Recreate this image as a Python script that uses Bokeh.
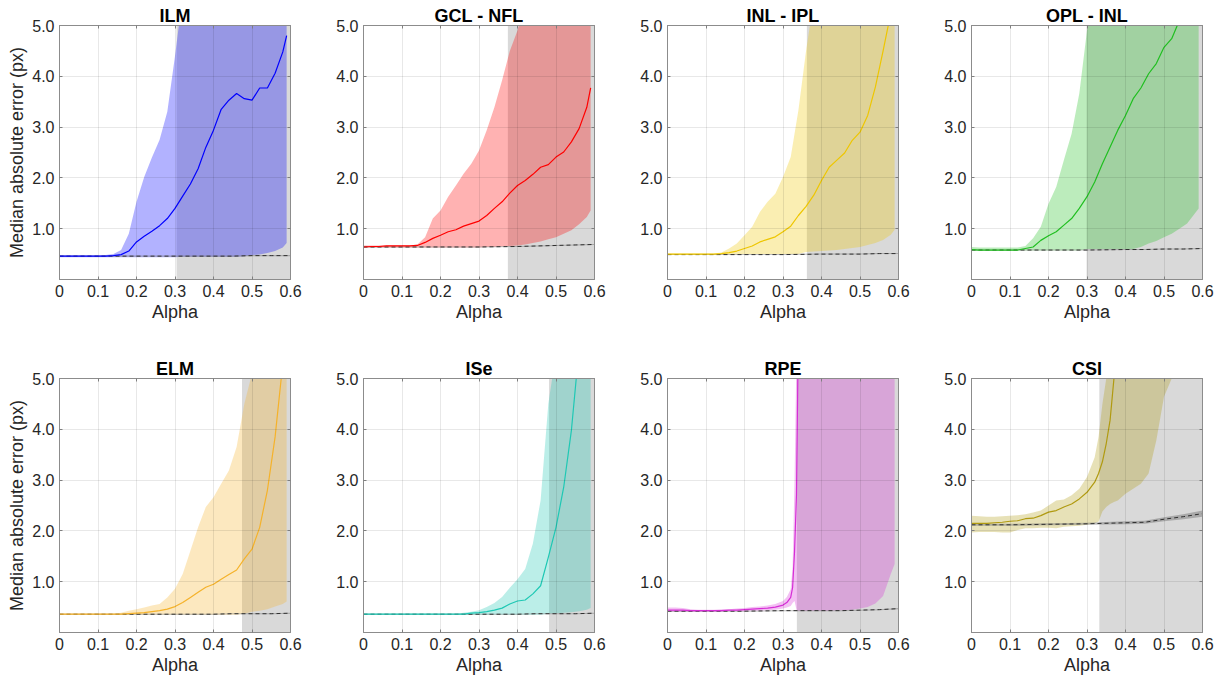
from bokeh.plotting import figure
from bokeh.layouts import column, row
from bokeh.models import (Range1d, FixedTicker, NumeralTickFormatter, BoxAnnotation,
                          LinearAxis, CustomJSTickFormatter)
from bokeh.embed import file_html
from bokeh.resources import INLINE

# ---------------- data ----------------
titles = ["ILM", "GCL - NFL", "INL - IPL", "OPL - INL", "ELM", "ISe", "RPE", "CSI"]
line_colors = ["#0000ff", "#ff0000", "#eec600", "#20bf20", "#f5b22a", "#1ec8b4", "#d62ed6", "#b09a10"]
grey_start = [0.304, 0.375, 0.362, 0.299, 0.474, 0.482, 0.336, 0.332]

x_ticks = [0.0, 0.1, 0.2, 0.3, 0.4, 0.5, 0.6]
y_ticks = [1.0, 2.0, 3.0, 4.0, 5.0]

alpha = [0.00, 0.02, 0.04, 0.06, 0.08, 0.10, 0.12, 0.14, 0.16, 0.18, 0.20, 0.22, 0.24, 0.26, 0.28,
         0.30, 0.32, 0.34, 0.36, 0.38, 0.40, 0.42, 0.44, 0.46, 0.48, 0.50, 0.52, 0.54, 0.56, 0.58, 0.59]

ilm_median = [0.46, 0.46, 0.46, 0.46, 0.46, 0.46, 0.46, 0.47, 0.49, 0.56, 0.74, 0.85, 0.95, 1.06, 1.20,
              1.40, 1.64, 1.88, 2.18, 2.60, 2.94, 3.35, 3.53, 3.66, 3.56, 3.53, 3.77, 3.77, 4.06, 4.48, 4.80]
ilm_upper = [0.47, 0.47, 0.47, 0.47, 0.47, 0.47, 0.48, 0.50, 0.58, 0.90, 1.53, 2.02, 2.40, 2.75, 3.30,
             4.40, 5.60, 6.0, 6.0, 6.0, 6.0, 6.0, 6.0, 6.0, 6.0, 6.0, 6.0, 6.0, 6.0, 6.0, 6.0]
ilm_lower = [0.44, 0.44, 0.44, 0.44, 0.44, 0.44, 0.44, 0.44, 0.44, 0.44, 0.44, 0.44, 0.44, 0.44, 0.44,
             0.44, 0.45, 0.45, 0.45, 0.45, 0.45, 0.45, 0.45, 0.45, 0.46, 0.48, 0.49, 0.52, 0.56, 0.63, 0.72]

gcl_median = [0.64, 0.65, 0.65, 0.66, 0.66, 0.66, 0.66, 0.67, 0.73, 0.81, 0.87, 0.94, 0.98, 1.05, 1.10,
              1.15, 1.26, 1.40, 1.53, 1.70, 1.85, 1.95, 2.07, 2.21, 2.26, 2.41, 2.51, 2.71, 2.97, 3.39, 3.77]
gcl_upper = [0.67, 0.67, 0.67, 0.67, 0.67, 0.67, 0.67, 0.69, 0.83, 1.20, 1.36, 1.63, 1.85, 2.08, 2.28,
             2.54, 2.94, 3.39, 3.92, 4.50, 4.90, 5.50, 6.0, 6.0, 6.0, 6.0, 6.0, 6.0, 6.0, 6.0, 6.0]
gcl_lower = [0.63, 0.63, 0.63, 0.63, 0.63, 0.63, 0.63, 0.63, 0.63, 0.63, 0.63, 0.63, 0.63, 0.63, 0.63,
             0.63, 0.64, 0.64, 0.65, 0.66, 0.67, 0.69, 0.72, 0.75, 0.79, 0.83, 0.90, 0.97, 1.09, 1.23, 1.36]

inl_median = [0.50, 0.50, 0.50, 0.50, 0.50, 0.50, 0.50, 0.51, 0.53, 0.56, 0.61, 0.66, 0.74, 0.79, 0.84,
              0.94, 1.05, 1.26, 1.44, 1.66, 1.95, 2.21, 2.35, 2.49, 2.74, 2.90, 3.23, 3.79, 4.50, 5.25, 5.60]
inl_upper = [0.51, 0.51, 0.51, 0.51, 0.51, 0.51, 0.51, 0.53, 0.61, 0.71, 0.87, 1.04, 1.33, 1.53, 1.69,
             2.02, 2.41, 3.33, 4.51, 5.50, 6.0, 6.0, 6.0, 6.0, 6.0, 6.0, 6.0, 6.0, 6.0, 6.0, 6.0]
inl_lower = [0.49, 0.49, 0.49, 0.49, 0.49, 0.49, 0.49, 0.49, 0.49, 0.49, 0.50, 0.50, 0.50, 0.50, 0.50,
             0.50, 0.50, 0.50, 0.54, 0.55, 0.56, 0.57, 0.58, 0.60, 0.62, 0.64, 0.68, 0.72, 0.78, 0.88, 0.98]

opl_median = [0.59, 0.58, 0.58, 0.58, 0.58, 0.58, 0.58, 0.61, 0.64, 0.77, 0.86, 0.94, 1.07, 1.20, 1.40,
              1.63, 1.92, 2.28, 2.61, 2.94, 3.23, 3.56, 3.77, 4.05, 4.25, 4.57, 4.74, 5.10, 5.40, 5.70, 5.90]
opl_upper = [0.64, 0.63, 0.63, 0.63, 0.63, 0.63, 0.63, 0.66, 0.81, 1.04, 1.49, 1.82, 2.35, 2.87, 3.66,
             4.90, 5.60, 6.0, 6.0, 6.0, 6.0, 6.0, 6.0, 6.0, 6.0, 6.0, 6.0, 6.0, 6.0, 6.0, 6.0]
opl_lower = [0.57, 0.57, 0.57, 0.57, 0.57, 0.57, 0.57, 0.57, 0.57, 0.57, 0.57, 0.57, 0.57, 0.57, 0.57,
             0.60, 0.60, 0.60, 0.60, 0.60, 0.60, 0.60, 0.64, 0.71, 0.76, 0.83, 0.90, 1.00, 1.10, 1.30, 1.40]

elm_median = [0.36, 0.36, 0.36, 0.36, 0.36, 0.36, 0.36, 0.36, 0.36, 0.37, 0.38, 0.39, 0.41, 0.43, 0.46,
              0.51, 0.59, 0.69, 0.79, 0.89, 0.95, 1.05, 1.14, 1.23, 1.45, 1.64, 2.07, 2.80, 3.85, 5.30, 5.70]
elm_upper = [0.37, 0.37, 0.37, 0.37, 0.37, 0.37, 0.37, 0.37, 0.39, 0.43, 0.46, 0.49, 0.53, 0.56, 0.69,
             0.86, 1.15, 1.61, 2.07, 2.47, 2.66, 2.93, 3.19, 3.65, 4.50, 5.10, 6.0, 6.0, 6.0, 6.0, 6.0]
elm_lower = [0.35, 0.35, 0.35, 0.35, 0.35, 0.35, 0.35, 0.35, 0.35, 0.35, 0.35, 0.35, 0.35, 0.35, 0.35,
             0.35, 0.35, 0.35, 0.35, 0.35, 0.35, 0.35, 0.35, 0.35, 0.37, 0.41, 0.43, 0.46, 0.51, 0.56, 0.61]

ise_median = [0.36, 0.36, 0.36, 0.36, 0.36, 0.36, 0.36, 0.36, 0.36, 0.36, 0.36, 0.36, 0.36, 0.36, 0.38,
              0.39, 0.41, 0.44, 0.48, 0.56, 0.62, 0.64, 0.76, 0.92, 1.48, 2.07, 2.86, 3.98, 5.60, 6.50, 7.00]
ise_upper = [0.37, 0.37, 0.37, 0.37, 0.37, 0.37, 0.37, 0.37, 0.37, 0.37, 0.37, 0.37, 0.37, 0.39, 0.41,
             0.44, 0.50, 0.58, 0.70, 0.88, 1.05, 1.25, 1.75, 2.60, 4.50, 5.50, 6.0, 6.0, 6.0, 6.0, 6.0]
ise_lower = [0.35, 0.35, 0.35, 0.35, 0.35, 0.35, 0.35, 0.35, 0.35, 0.35, 0.35, 0.35, 0.35, 0.35, 0.35,
             0.35, 0.35, 0.35, 0.35, 0.35, 0.35, 0.35, 0.35, 0.35, 0.37, 0.38, 0.39, 0.40, 0.42, 0.45, 0.48]

rpe_alpha = [0.00, 0.02, 0.04, 0.06, 0.08, 0.10, 0.12, 0.14, 0.16, 0.18, 0.20, 0.22, 0.24, 0.26, 0.28, 0.30,
             0.31, 0.32, 0.325, 0.33, 0.335, 0.34,
             0.36, 0.38, 0.40, 0.42, 0.44, 0.46, 0.48, 0.50, 0.52, 0.54, 0.56, 0.58, 0.59]
rpe_median = [0.44, 0.44, 0.44, 0.43, 0.43, 0.43, 0.43, 0.43, 0.44, 0.44, 0.45, 0.46, 0.47, 0.48, 0.50, 0.54,
              0.59, 0.69, 0.89, 1.60, 2.70, 6.0,
              6.0, 6.0, 6.0, 6.0, 6.0, 6.0, 6.0, 6.0, 6.0, 6.0, 6.0, 6.0, 6.0]
rpe_upper = [0.49, 0.49, 0.48, 0.46, 0.45, 0.45, 0.45, 0.46, 0.46, 0.47, 0.48, 0.50, 0.51, 0.53, 0.56, 0.62,
             0.70, 0.85, 1.30, 3.00, 5.50, 6.0,
             6.0, 6.0, 6.0, 6.0, 6.0, 6.0, 6.0, 6.0, 6.0, 6.0, 6.0, 6.0, 6.0]
rpe_lower = [0.41, 0.41, 0.41, 0.41, 0.41, 0.41, 0.41, 0.41, 0.42, 0.42, 0.42, 0.43, 0.43, 0.44, 0.45, 0.47,
             0.49, 0.52, 0.58, 0.62, 0.45, 0.43,
             0.43, 0.43, 0.43, 0.43, 0.44, 0.44, 0.45, 0.47, 0.50, 0.57, 0.72, 1.15, 1.35]

csi_alpha = [0.00, 0.02, 0.04, 0.06, 0.08, 0.10, 0.12, 0.14, 0.16, 0.18, 0.20, 0.22, 0.24, 0.26, 0.28, 0.30,
             0.32, 0.33, 0.34, 0.35, 0.36, 0.37, 0.38,
             0.40, 0.42, 0.44, 0.46, 0.48, 0.50, 0.52, 0.54, 0.56, 0.58, 0.59]
csi_median = [2.15, 2.15, 2.15, 2.16, 2.17, 2.19, 2.20, 2.24, 2.25, 2.30, 2.37, 2.40, 2.47, 2.53, 2.63, 2.76,
              2.96, 3.13, 3.36, 3.72, 4.18, 5.00, 5.60,
              6.0, 6.0, 6.0, 6.0, 6.0, 6.0, 6.0, 6.0, 6.0, 6.0, 6.0]
csi_upper = [2.30, 2.29, 2.28, 2.28, 2.29, 2.30, 2.31, 2.33, 2.36, 2.40, 2.50, 2.60, 2.62, 2.70, 2.83, 3.06,
             3.45, 3.85, 4.50, 5.00, 5.50, 6.0, 6.0,
             6.0, 6.0, 6.0, 6.0, 6.0, 6.0, 6.0, 6.0, 6.0, 6.0, 6.0]
csi_lower = [1.97, 1.98, 1.98, 1.98, 1.97, 1.97, 2.02, 2.05, 2.05, 2.06, 2.06, 2.05, 2.08, 2.09, 2.10, 2.12,
             2.15, 2.18, 2.38, 2.47, 2.53, 2.57, 2.60,
             2.73, 2.83, 2.93, 3.13, 3.78, 4.64, 5.00, 5.50, 6.0, 6.0, 6.0]

base_alpha = [0.0, 0.1, 0.2, 0.3, 0.4, 0.45, 0.5, 0.55, 0.6]
ilm_base = [0.46, 0.46, 0.46, 0.46, 0.46, 0.46, 0.47, 0.47, 0.47]
gcl_base = [0.64, 0.64, 0.64, 0.64, 0.65, 0.66, 0.67, 0.68, 0.69]
inl_base = [0.49, 0.49, 0.49, 0.49, 0.50, 0.50, 0.50, 0.51, 0.51]
opl_base = [0.58, 0.58, 0.58, 0.58, 0.59, 0.59, 0.60, 0.60, 0.61]
elm_base = [0.36, 0.36, 0.36, 0.36, 0.36, 0.37, 0.37, 0.37, 0.38]
ise_base = [0.36, 0.36, 0.36, 0.36, 0.36, 0.37, 0.37, 0.37, 0.38]
rpe_base = [0.42, 0.42, 0.42, 0.43, 0.43, 0.43, 0.44, 0.45, 0.47]
csi_base = [2.12, 2.12, 2.13, 2.14, 2.16, 2.17, 2.23, 2.28, 2.34]
thin_spread = [0.01, 0.01, 0.01, 0.01, 0.01, 0.01, 0.01, 0.01, 0.01]
csi_spread = [0.02, 0.02, 0.02, 0.02, 0.03, 0.03, 0.04, 0.05, 0.06]

panels = [
    (alpha, ilm_median, ilm_lower, ilm_upper, ilm_base, thin_spread),
    (alpha, gcl_median, gcl_lower, gcl_upper, gcl_base, thin_spread),
    (alpha, inl_median, inl_lower, inl_upper, inl_base, thin_spread),
    (alpha, opl_median, opl_lower, opl_upper, opl_base, thin_spread),
    (alpha, elm_median, elm_lower, elm_upper, elm_base, thin_spread),
    (alpha, ise_median, ise_lower, ise_upper, ise_base, thin_spread),
    (rpe_alpha, rpe_median, rpe_lower, rpe_upper, rpe_base, thin_spread),
    (csi_alpha, csi_median, csi_lower, csi_upper, csi_base, csi_spread),
]

FONT = "Liberation Sans"
AX_COL = "#8c8c8c"
TXT_COL = "#262626"


def style_axis(ax):
    ax.axis_line_color = AX_COL
    ax.major_tick_line_color = AX_COL
    ax.major_tick_in = 3
    ax.major_tick_out = 0
    ax.minor_tick_line_color = None


def tick_only_axis(ticks):
    ax = LinearAxis(ticker=FixedTicker(ticks=ticks),
                    formatter=CustomJSTickFormatter(code="return '';"),
                    major_label_standoff=0, major_label_text_font_size="1px")
    style_axis(ax)
    return ax


def make_panel(i):
    xs, med, lo, hi, base, spread = panels[i]
    c = i % 4
    r = i // 4
    p = figure(frame_width=231, frame_height=254,
               x_range=Range1d(0, 0.6), y_range=Range1d(0, 5),
               output_backend="svg", toolbar_location=None, tools="",
               min_border_left=(59 if c == 0 else 51),
               min_border_right=(22 if c < 3 else 19),
               min_border_top=(25 if r == 0 else 22),
               min_border_bottom=(77 if r == 0 else 46))
    p.title.text = titles[i]
    p.title.align = "center"
    p.title.text_font = FONT
    p.title.text_font_size = "18px"
    p.title.text_font_style = "bold"
    p.title.text_color = "#000000"
    p.title.standoff = 0

    p.outline_line_color = AX_COL
    p.outline_line_width = 1
    p.background_fill_color = "white"
    p.border_fill_color = "white"

    p.xaxis.ticker = FixedTicker(ticks=x_ticks)
    p.xaxis.formatter = NumeralTickFormatter(format="0.[0]")
    p.yaxis.ticker = FixedTicker(ticks=y_ticks)
    p.yaxis.formatter = NumeralTickFormatter(format="0.0")
    for ax in p.xaxis + p.yaxis:
        style_axis(ax)
        ax.major_label_text_font = FONT
        ax.major_label_text_font_size = "16px"
        ax.major_label_text_color = TXT_COL
        ax.major_label_standoff = 5
        ax.axis_label_text_font = FONT
        ax.axis_label_text_font_size = "18px"
        ax.axis_label_text_font_style = "normal"
        ax.axis_label_text_color = TXT_COL
        ax.axis_label_standoff = 2
    p.xaxis.axis_label = "Alpha"
    if c == 0:
        p.yaxis.axis_label = "Median absolute error (px)"

    # inward ticks on the top and right edges (box style)
    p.add_layout(tick_only_axis(x_ticks), "above")
    p.add_layout(tick_only_axis(y_ticks), "right")

    p.xgrid.ticker = FixedTicker(ticks=x_ticks)
    p.ygrid.ticker = FixedTicker(ticks=y_ticks)
    p.grid.grid_line_color = "black"
    p.grid.grid_line_alpha = 0.09
    p.grid.level = "overlay"

    p.add_layout(BoxAnnotation(left=grey_start[i], fill_color="#d9d9d9", fill_alpha=1.0,
                               line_color=None, level="underlay"))
    p.varea(x=xs, y1=lo, y2=hi, fill_color=line_colors[i], fill_alpha=0.3)
    p.varea(x=base_alpha, y1=[b - s for b, s in zip(base, spread)],
            y2=[b + s for b, s in zip(base, spread)], fill_color="#7a7a7a", fill_alpha=0.5)
    p.line(x=base_alpha, y=base, line_color="#303030", line_width=1, line_dash="4 3")
    p.line(x=xs, y=med, line_color=line_colors[i], line_width=1.2)
    return p


figs = [make_panel(i) for i in range(8)]
layout = column(row(*figs[:4]), row(*figs[4:]))

open("out.html", "w").write(file_html(layout, INLINE))
